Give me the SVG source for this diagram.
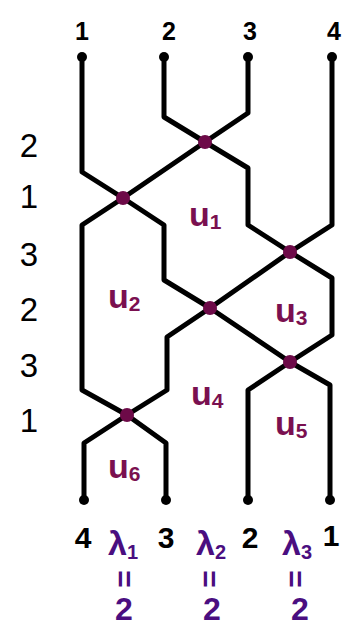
<svg xmlns="http://www.w3.org/2000/svg" width="349" height="629" viewBox="0 0 349 629">
<style>
.s{fill:none;stroke:#000;stroke-width:5;stroke-linejoin:round;stroke-linecap:round}
.e{fill:#000}
.x{fill:#6d0a48}
.n{font-family:"Liberation Sans",Arial,sans-serif;fill:#000;text-anchor:middle}
.u{font-family:"Liberation Sans",Arial,sans-serif;font-weight:bold;fill:#7a1050}
.l{font-family:"Liberation Sans",Arial,sans-serif;font-weight:bold;fill:#4a0e80;text-anchor:middle}
</style>
<rect width="349" height="629" fill="#fff"/>
<g id="connectors">
<polyline class="s" points="82,57 82,172 123,198 164,225 164,280 210,308 290,362 330,385 330,500"/>
<polyline class="s" points="164,57 164,117 205,142 123,198 82,225 82,390 127,415 166,443 166,500"/>
<polyline class="s" points="248,57 248,113 205,142 248,168 248,225 290,252 332,278 332,335 290,362 248,390 248,500"/>
<polyline class="s" points="332,57 332,225 290,252 210,308 167,337 167,390 127,415 84,443 84,500"/>
</g>
<g id="ends">
<circle class="e" cx="82" cy="57" r="5"/><circle class="e" cx="164" cy="57" r="5"/><circle class="e" cx="248" cy="57" r="5"/><circle class="e" cx="332" cy="57" r="5"/>
<circle class="e" cx="84" cy="500" r="5"/><circle class="e" cx="166" cy="500" r="5"/><circle class="e" cx="248" cy="500" r="5"/><circle class="e" cx="330" cy="500" r="5"/>
</g>
<g id="crossings">
<circle class="x" cx="205" cy="142" r="7"/>
<circle class="x" cx="123" cy="198" r="7"/>
<circle class="x" cx="290" cy="252" r="7"/>
<circle class="x" cx="210" cy="308" r="7"/>
<circle class="x" cx="290" cy="362" r="7"/>
<circle class="x" cx="127" cy="415" r="7"/>
</g>
<g id="top-labels" class="n" font-size="25" font-weight="bold">
<text x="82" y="40">1</text><text x="169" y="40">2</text><text x="250" y="40">3</text><text x="334" y="40">4</text>
</g>
<g id="left-labels" class="n" font-size="33">
<text x="29" y="157">2</text><text x="29" y="208">1</text><text x="29" y="266">3</text><text x="29" y="321">2</text><text x="29" y="377">3</text><text x="29" y="432">1</text>
</g>
<g id="bottom-labels" class="n" font-size="30" font-weight="bold">
<text x="83" y="548">4</text><text x="166" y="548">3</text><text x="250" y="548">2</text><text x="331" y="546">1</text>
</g>
<g id="regions" font-size="34">
<text class="u" x="189" y="226">u<tspan font-size="21" dy="3">1</tspan></text>
<text class="u" x="108" y="308">u<tspan font-size="21" dy="3">2</tspan></text>
<text class="u" x="275" y="322">u<tspan font-size="21" dy="3">3</tspan></text>
<text class="u" x="191" y="405">u<tspan font-size="21" dy="3">4</tspan></text>
<text class="u" x="275" y="435">u<tspan font-size="21" dy="3">5</tspan></text>
<text class="u" x="108" y="478">u<tspan font-size="21" dy="3">6</tspan></text>
</g>
<g id="lambdas">
<text class="l" x="123" y="555" font-size="34">λ<tspan font-size="20" dy="4">1</tspan></text>
<text class="l" x="211" y="555" font-size="34">λ<tspan font-size="20" dy="4">2</tspan></text>
<text class="l" x="297" y="555" font-size="34">λ<tspan font-size="20" dy="4">3</tspan></text>
<text class="l" font-size="30" transform="translate(125,579) rotate(90)" y="11">=</text>
<text class="l" font-size="30" transform="translate(210,579) rotate(90)" y="11">=</text>
<text class="l" font-size="30" transform="translate(296,579) rotate(90)" y="11">=</text>
<text class="l" x="124" y="620" font-size="32">2</text>
<text class="l" x="212" y="620" font-size="32">2</text>
<text class="l" x="300" y="620" font-size="32">2</text>
</g>
</svg>
